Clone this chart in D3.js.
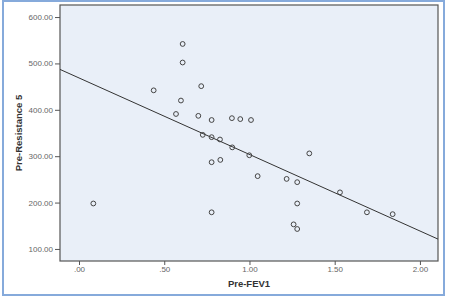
<!DOCTYPE html>
<html>
  <head>
    <script src="https://cdn.jsdelivr.net/npm/d3@7"></script>
    <style>
      body { margin: 0; background: #fff; }
      text { font-family: "Liberation Sans", Arial, sans-serif; }
    </style>
  </head>
  <body>
  <script>

  // Pre-FEV1 vs Pre-Resistance 5
  var fev1 = [0.608, 0.608, 0.438, 0.717, 0.598, 0.569, 0.700, 0.778, 0.897, 0.946,
              1.009, 0.726, 0.778, 0.827, 0.899, 0.999, 0.778, 0.829, 1.048, 1.218,
              1.280, 1.351, 1.531, 1.280, 1.259, 1.280, 0.778, 1.689, 1.840, 0.084]
  var resistance = [542, 502, 442, 451, 420, 391, 387, 378, 382, 380,
                    378, 346, 341, 336, 319, 302, 287, 292, 257, 251,
                    244, 306, 222, 198, 153, 143, 179, 179, 175, 198]

  var xTicks = [0, 0.5, 1, 1.5, 2]
  var yTicks = [100, 200, 300, 400, 500, 600]

  // fit line (intercept, slope)
  var fit = [468.7, -165]

  var W = 449, H = 296
  var svg = d3.select('body').append('svg')
    .attr('width', W)
    .attr('height', H)

  // outer frame
  svg.append('rect')
    .attr('x', 3).attr('y', 1)
    .attr('width', 441).attr('height', 294)
    .attr('fill', '#fff')
    .attr('stroke', '#86aadb')
    .attr('stroke-width', 2)

  var pLeft = 60, pRight = 438, pTop = 5, pBottom = 261

  var x = d3.scaleLinear().domain([-0.1115, 2.106]).range([pLeft, pRight])
  var y = d3.scaleLinear().domain([74, 626]).range([pBottom, pTop])

  svg.append('rect')
    .attr('x', pLeft).attr('y', pTop)
    .attr('width', pRight - pLeft).attr('height', pBottom - pTop)
    .attr('fill', '#e9eff8')

  var fmtY = d3.format('.2f')
  var fmtX = function(d) { return d3.format('.2f')(d).replace(/^0/, '') }

  svg.append('g')
    .attr('transform', 'translate(' + pLeft + ',0)')
    .call(d3.axisLeft(y).tickValues(yTicks).tickFormat(fmtY).tickSize(5).tickPadding(2))
  svg.append('g')
    .attr('transform', 'translate(0,' + pBottom + ')')
    .call(d3.axisBottom(x).tickValues(xTicks).tickFormat(fmtX).tickSize(4).tickPadding(1))

  svg.selectAll('.domain').remove()
  svg.selectAll('.tick line').attr('stroke', '#555')
  svg.selectAll('.tick text').attr('fill', '#666').style('font-size', '8px')

  // plot box
  svg.append('rect')
    .attr('x', pLeft).attr('y', pTop)
    .attr('width', pRight - pLeft).attr('height', pBottom - pTop)
    .attr('fill', 'none')
    .attr('stroke', '#555')
    .attr('stroke-width', 1.2)

  // fit line across the plot
  var x0 = x.domain()[0], x1 = x.domain()[1]
  svg.append('line')
    .attr('x1', x(x0)).attr('y1', y(fit[0] + fit[1] * x0))
    .attr('x2', x(x1)).attr('y2', y(fit[0] + fit[1] * x1))
    .attr('stroke', '#333')
    .attr('stroke-width', 1)

  svg.selectAll('circle').data(fev1)
    .enter().append('circle')
      .attr('cx', function(d) { return x(d) })
      .attr('cy', function(d, i) { return y(resistance[i]) })
      .attr('r', 2.4)
      .attr('fill', 'none')
      .attr('stroke', '#444')
      .attr('stroke-width', 1)

  svg.append('text')
    .attr('x', (pLeft + pRight) / 2).attr('y', 287)
    .attr('text-anchor', 'middle')
    .attr('fill', '#333')
    .style('font-size', '9.5px').style('font-weight', 'bold')
    .text('Pre-FEV1')

  svg.append('text')
    .attr('transform', 'translate(22,' + ((pTop + pBottom) / 2) + ') rotate(-90)')
    .attr('text-anchor', 'middle')
    .attr('fill', '#333')
    .style('font-size', '9.5px').style('font-weight', 'bold')
    .text('Pre-Resistance 5')

  </script>
  </body>
</html>
